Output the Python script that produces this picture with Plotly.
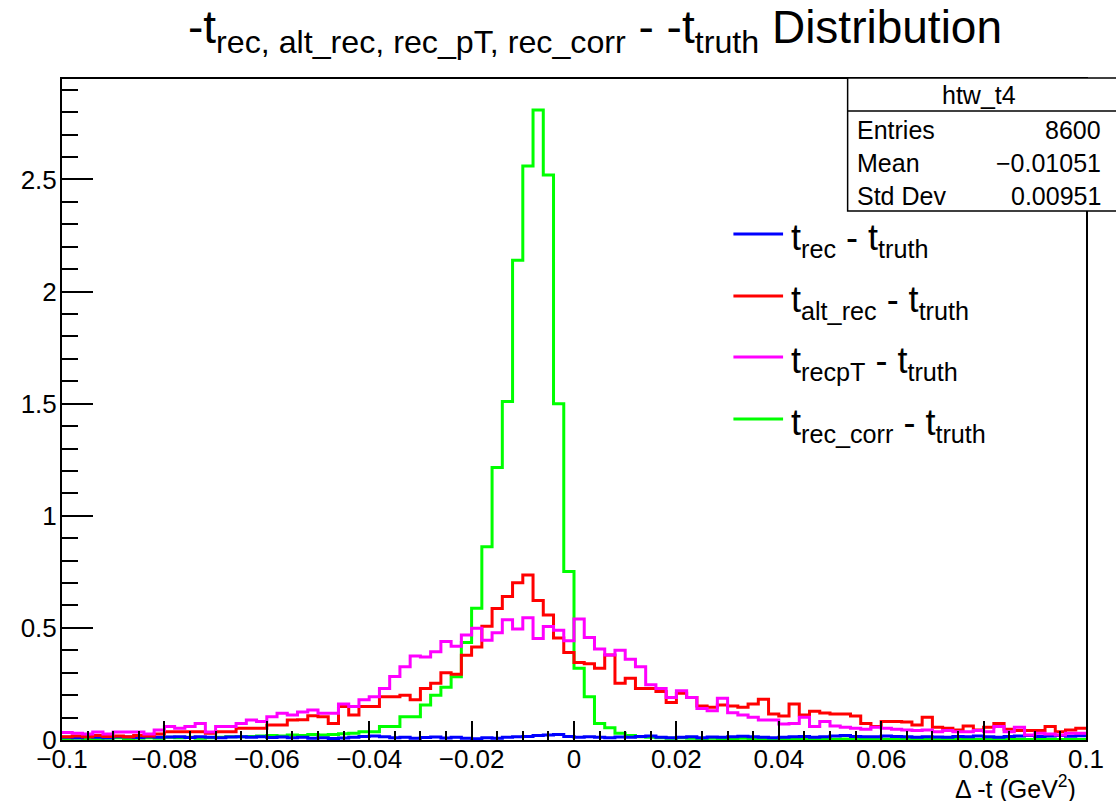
import plotly.graph_objects as go

# ---------------- data ----------------
n_bins = 100
x_lo, x_hi = -0.1, 0.1
bin_edges = [x_lo + (x_hi - x_lo) * k / n_bins for k in range(n_bins + 1)]

# t_rec_corr - t_truth (htw_t4)
green_vals = [
    0.005, 0.008, 0.005, 0.006, 0.008, 0.010, 0.006, 0.008, 0.010, 0.008,
    0.012, 0.010, 0.012, 0.008, 0.010, 0.012, 0.015, 0.014, 0.016, 0.018,
    0.020, 0.018, 0.022, 0.020, 0.025, 0.022, 0.025, 0.028, 0.030, 0.037,
    0.037, 0.060, 0.060, 0.104, 0.104, 0.156, 0.200, 0.235, 0.282, 0.435,
    0.588, 0.862, 1.215, 1.510, 2.140, 2.560, 2.810, 2.520, 1.500, 0.752,
    0.320, 0.193, 0.074, 0.055, 0.030, 0.020, 0.014, 0.012, 0.010, 0.008,
    0.010, 0.008, 0.006, 0.008, 0.005, 0.006, 0.008, 0.005, 0.004, 0.006,
    0.005, 0.004, 0.006, 0.004, 0.005, 0.003, 0.004, 0.005, 0.003, 0.004,
    0.003, 0.004, 0.002, 0.003, 0.004, 0.002, 0.003, 0.002, 0.003, 0.002,
    0.003, 0.002, 0.002, 0.003, 0.002, 0.002, 0.003, 0.002, 0.002, 0.002,
]

# t_rec - t_truth
blue_vals = [
    0.012, 0.010, 0.014, 0.012, 0.010, 0.015, 0.013, 0.011, 0.014, 0.012,
    0.013, 0.015, 0.011, 0.014, 0.012, 0.010, 0.013, 0.015, 0.012, 0.014,
    0.011, 0.013, 0.010, 0.012, 0.008, 0.010, 0.007, 0.009, 0.012, 0.016,
    0.018, 0.014, 0.010, 0.012, 0.008, 0.011, 0.013, 0.009, 0.012, 0.008,
    0.006, 0.010, 0.008, 0.012, 0.015, 0.016, 0.020, 0.022, 0.024, 0.016,
    0.012, 0.014, 0.012, 0.010, 0.013, 0.012, 0.016, 0.018, 0.012, 0.010,
    0.012, 0.014, 0.010, 0.013, 0.012, 0.015, 0.017, 0.014, 0.012, 0.010,
    0.012, 0.014, 0.016, 0.012, 0.015, 0.018, 0.020, 0.016, 0.014, 0.015,
    0.018, 0.016, 0.014, 0.012, 0.015, 0.013, 0.012, 0.016, 0.014, 0.018,
    0.015, 0.012, 0.016, 0.018, 0.020, 0.016, 0.018, 0.020, 0.017, 0.019,
]

# t_alt_rec - t_truth
red_vals = [
    0.015, 0.018, 0.015, 0.020, 0.016, 0.018, 0.015, 0.020, 0.018, 0.027,
    0.037, 0.037, 0.037, 0.037, 0.030, 0.037, 0.037, 0.052, 0.052, 0.052,
    0.067, 0.067, 0.089, 0.090, 0.108, 0.104, 0.074, 0.149, 0.112, 0.149,
    0.149, 0.193, 0.193, 0.200, 0.179, 0.230, 0.253, 0.300, 0.293, 0.378,
    0.415, 0.507, 0.587, 0.640, 0.701, 0.736, 0.622, 0.557, 0.455, 0.390,
    0.346, 0.340, 0.320, 0.379, 0.253, 0.275, 0.230, 0.230, 0.216, 0.167,
    0.208, 0.190, 0.152, 0.146, 0.156, 0.152, 0.146, 0.161, 0.182, 0.116,
    0.107, 0.161, 0.112, 0.128, 0.120, 0.116, 0.116, 0.107, 0.074, 0.060,
    0.082, 0.082, 0.080, 0.067, 0.101, 0.057, 0.052, 0.045, 0.062, 0.045,
    0.057, 0.074, 0.048, 0.042, 0.042, 0.042, 0.060, 0.037, 0.045, 0.052,
]

# t_recpT - t_truth
magenta_vals = [
    0.033, 0.030, 0.027, 0.036, 0.027, 0.036, 0.036, 0.036, 0.027, 0.045,
    0.060, 0.052, 0.060, 0.074, 0.036, 0.060, 0.060, 0.074, 0.089, 0.082,
    0.104, 0.119, 0.112, 0.125, 0.134, 0.119, 0.119, 0.161, 0.149, 0.179,
    0.193, 0.230, 0.283, 0.327, 0.375, 0.370, 0.394, 0.439, 0.418, 0.468,
    0.498, 0.445, 0.478, 0.536, 0.495, 0.545, 0.453, 0.506, 0.490, 0.443,
    0.540, 0.457, 0.406, 0.379, 0.400, 0.360, 0.327, 0.246, 0.230, 0.190,
    0.220, 0.190, 0.141, 0.131, 0.186, 0.122, 0.112, 0.101, 0.089, 0.089,
    0.071, 0.074, 0.101, 0.060, 0.082, 0.062, 0.057, 0.052, 0.048, 0.057,
    0.052, 0.048, 0.045, 0.042, 0.045, 0.037, 0.042, 0.037, 0.037, 0.042,
    0.037, 0.060, 0.037, 0.057, 0.022, 0.030, 0.027, 0.022, 0.030, 0.030,
]

series = [
    ("t<sub>rec_corr</sub> - t<sub>truth</sub>", green_vals, "#00ff00"),
    ("t<sub>rec</sub> - t<sub>truth</sub>", blue_vals, "#0000ff"),
    ("t<sub>alt_rec</sub> - t<sub>truth</sub>", red_vals, "#ff0000"),
    ("t<sub>recpT</sub> - t<sub>truth</sub>", magenta_vals, "#ff00ff"),
]
legend_order = [1, 2, 3, 0]

stats_name = "htw_t4"
stats_rows = [("Entries", "8600"), ("Mean", "\u22120.01051"), ("Std Dev", "0.00951")]

y_max = 2.948
FONT = "Liberation Sans, Arial, Helvetica, sans-serif"

# ---------------- figure ----------------
fig = go.Figure()
for name, vals, color in series:
    fig.add_trace(go.Scatter(
        x=bin_edges, y=vals + [vals[-1]], mode="lines", line_shape="hv",
        line=dict(color=color, width=3), name=name, showlegend=False,
        hoverinfo="skip"))

W, H = 1116, 801
L, R, T, B = 62, 23, 79, 61
PW, PH = W - L - R, H - T - B


def xp(px):
    return (px - L) / PW


def yp(py):
    return (H - B - py) / PH


shapes = []
annotations = []

# legend (custom, drawn as line samples + text)
leg_rows_y = [234, 296, 357, 419]
for row, idx in enumerate(legend_order):
    name, _, color = series[idx]
    ly = leg_rows_y[row]
    shapes.append(dict(type="line", xref="paper", yref="paper",
                       x0=xp(738), x1=xp(788), y0=yp(ly), y1=yp(ly),
                       line=dict(color=color, width=3)))
    annotations.append(dict(xref="paper", yref="paper", x=xp(794), y=yp(ly + 6),
                            xanchor="left", yanchor="middle", showarrow=False,
                            text=name, font=dict(family=FONT, size=36, color="black")))

# stats box
shapes.append(dict(type="rect", xref="paper", yref="paper",
                   x0=xp(853), x1=xp(1140), y0=yp(211), y1=yp(78),
                   fillcolor="white", line=dict(color="black", width=1.5), layer="above"))
shapes.append(dict(type="line", xref="paper", yref="paper",
                   x0=xp(853), x1=xp(1140), y0=yp(111), y1=yp(111),
                   line=dict(color="black", width=1.5), layer="above"))
annotations.append(dict(xref="paper", yref="paper", x=xp(985), y=yp(95),
                        xanchor="center", yanchor="middle", showarrow=False,
                        text=stats_name, font=dict(family=FONT, size=25, color="black")))
for i, (lab, val) in enumerate(stats_rows):
    ry = 130 + 33 * i
    annotations.append(dict(xref="paper", yref="paper", x=xp(860), y=yp(ry),
                            xanchor="left", yanchor="middle", showarrow=False,
                            text=lab, font=dict(family=FONT, size=25, color="black")))
    annotations.append(dict(xref="paper", yref="paper", x=xp(1110), y=yp(ry),
                            xanchor="right", yanchor="middle", showarrow=False,
                            text=val, font=dict(family=FONT, size=25, color="black")))

# x axis title
annotations.append(dict(xref="paper", yref="paper", x=xp(1085), y=yp(787),
                        xanchor="right", yanchor="middle", showarrow=False,
                        text="\u0394 -t (GeV<sup>2</sup>)",
                        font=dict(family=FONT, size=25, color="black")))

fig.update_layout(
    width=W, height=H,
    margin=dict(l=L, r=R, t=T, b=B),
    paper_bgcolor="white", plot_bgcolor="white",
    showlegend=False,
    title=dict(text="-t<sub>rec, alt_rec, rec_pT, rec_corr</sub> - -t<sub>truth</sub> Distribution",
               x=595 / W, xanchor="center", xref="container",
               y=1 - 27 / H, yanchor="middle", yref="container",
               font=dict(family=FONT, size=46, color="black")),
    xaxis=dict(range=[x_lo, x_hi], tick0=0, dtick=0.02, ticks="inside", ticklen=19,
               tickwidth=1.5, tickcolor="black", showline=True, linecolor="black",
               linewidth=2, mirror=True, showgrid=False, zeroline=False,
               ticklabelstandoff=-5,
               tickfont=dict(family=FONT, size=26, color="black"),
               minor=dict(dtick=0.005, ticks="inside", ticklen=9, tickwidth=1.5,
                          tickcolor="black", showgrid=False)),
    yaxis=dict(range=[0, y_max], tick0=0, dtick=0.5, ticks="inside", ticklen=31,
               tickwidth=1.5, tickcolor="black", showline=True, linecolor="black",
               linewidth=2, mirror=True, showgrid=False, zeroline=False,
               ticklabelstandoff=-2,
               tickfont=dict(family=FONT, size=26, color="black"),
               minor=dict(dtick=0.1, ticks="inside", ticklen=16, tickwidth=1.5,
                          tickcolor="black", showgrid=False)),
    shapes=shapes,
    annotations=annotations,
)

fig.write_html("out.html")
